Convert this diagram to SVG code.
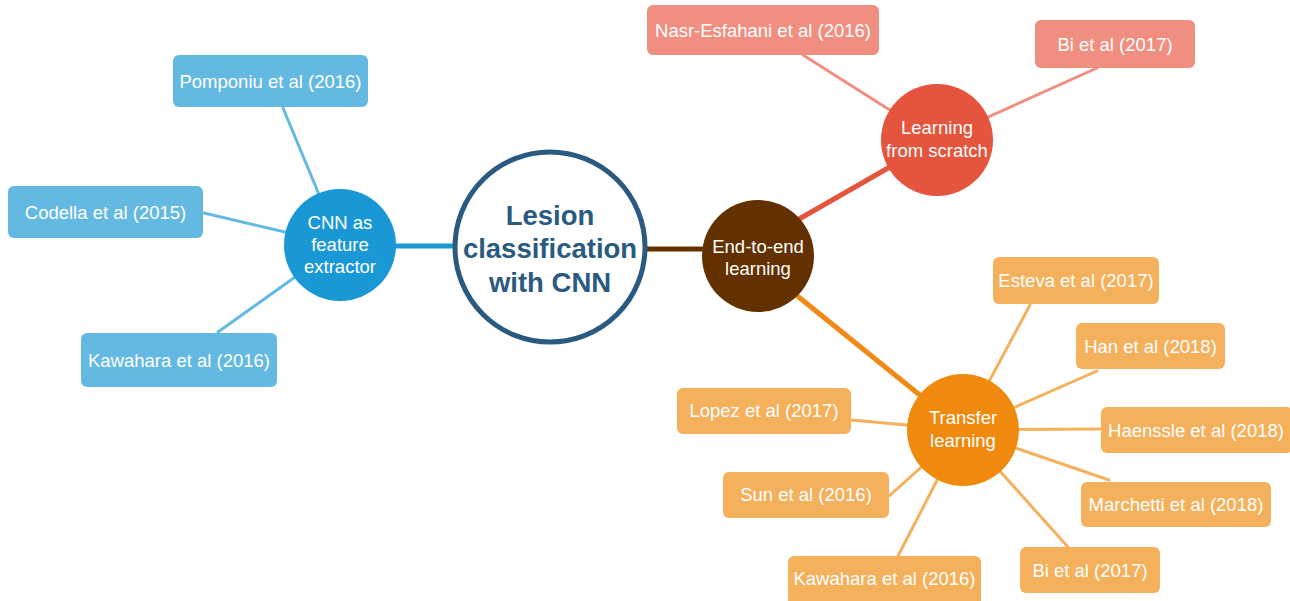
<svg xmlns="http://www.w3.org/2000/svg" width="1290" height="601" viewBox="0 0 1290 601">
<style>
text{font-family:"Liberation Sans",Arial,sans-serif;text-anchor:middle;fill:#fff}
.bt{font-size:18.5px}
.ct{font-size:18.5px}
.mt{font-size:27.5px;font-weight:bold;fill:#2a5a80}
.bb{fill:#64b9e2}
.rb{fill:#f08e80}
.ob{fill:#f5b05c}
.lb{stroke:#64b9e2;stroke-width:3;fill:none}
.lr{stroke:#f08e80;stroke-width:3;fill:none}
.lo{stroke:#f5b05c;stroke-width:3;fill:none}
</style>
<rect width="1290" height="601" fill="#fff"/>
<g id="connectors" stroke-linecap="round">
<line class="lb" x1="283" y1="108" x2="340" y2="245"/>
<line class="lb" x1="204" y1="213" x2="340" y2="245"/>
<line class="lb" x1="218" y1="332" x2="340" y2="245"/>
<line x1="340" y1="246" x2="455" y2="246" stroke="#1a97d5" stroke-width="5"/>
<line x1="646" y1="249" x2="710" y2="249" stroke="#633100" stroke-width="5"/>
<line x1="780" y1="230" x2="937" y2="140" stroke="#e5543d" stroke-width="5"/>
<line x1="790" y1="290" x2="963" y2="430" stroke="#ef8a17" stroke-width="5"/>
<line class="lr" x1="803" y1="55" x2="937" y2="140"/>
<line class="lr" x1="1097" y1="68" x2="937" y2="140"/>
<line class="lo" x1="1030" y1="305" x2="963" y2="430"/>
<line class="lo" x1="1097" y1="371" x2="963" y2="430"/>
<line class="lo" x1="1101" y1="429" x2="963" y2="430"/>
<line class="lo" x1="1109" y1="480" x2="963" y2="430"/>
<line class="lo" x1="1068" y1="547" x2="963" y2="430"/>
<line class="lo" x1="898" y1="556" x2="963" y2="430"/>
<line class="lo" x1="889" y1="496" x2="963" y2="430"/>
<line class="lo" x1="851" y1="420" x2="963" y2="430"/>
</g>
<g id="main">
<circle cx="550" cy="247" r="95" fill="#fff" stroke="#2a5a80" stroke-width="5"/>
<text class="mt" x="550" y="225">Lesion</text>
<text class="mt" x="550" y="258">classification</text>
<text class="mt" x="550" y="292">with CNN</text>
</g>
<g id="cnn-feature">
<circle cx="340" cy="245" r="56" fill="#1a97d5"/>
<text class="ct" x="340" y="229">CNN as</text>
<text class="ct" x="340" y="251">feature</text>
<text class="ct" x="340" y="273">extractor</text>
</g>
<g id="end-to-end">
<circle cx="758" cy="256" r="56" fill="#633100"/>
<text class="ct" x="758" y="253">End-to-end</text>
<text class="ct" x="758" y="275">learning</text>
</g>
<g id="scratch">
<circle cx="937" cy="140" r="56" fill="#e5543d"/>
<text class="ct" x="937" y="134">Learning</text>
<text class="ct" x="937" y="157">from scratch</text>
</g>
<g id="transfer">
<circle cx="963" cy="430" r="56" fill="#ef8a0e"/>
<text class="ct" x="963" y="424">Transfer</text>
<text class="ct" x="963" y="447">learning</text>
</g>
<g id="pomponiu"><rect class="bb" x="173" y="55" width="195" height="52" rx="6"/><text class="bt" x="270.5" y="88">Pomponiu et al (2016)</text></g>
<g id="codella"><rect class="bb" x="8" y="186" width="195" height="52" rx="6"/><text class="bt" x="105.5" y="219">Codella et al (2015)</text></g>
<g id="kawahara-1"><rect class="bb" x="81" y="333" width="196" height="54" rx="6"/><text class="bt" x="179" y="367">Kawahara et al (2016)</text></g>
<g id="nasr"><rect class="rb" x="647" y="5" width="232" height="50" rx="6"/><text class="bt" x="763" y="37">Nasr-Esfahani et al (2016)</text></g>
<g id="bi-1"><rect class="rb" x="1035" y="20" width="160" height="48" rx="6"/><text class="bt" x="1115" y="51">Bi et al (2017)</text></g>
<g id="esteva"><rect class="ob" x="993" y="257" width="166" height="47" rx="6"/><text class="bt" x="1076" y="287">Esteva et al (2017)</text></g>
<g id="han"><rect class="ob" x="1076" y="323" width="149" height="46" rx="6"/><text class="bt" x="1150.5" y="353">Han et al (2018)</text></g>
<g id="haenssle"><rect class="ob" x="1101" y="407" width="192" height="46" rx="6"/><text class="bt" x="1196" y="437">Haenssle et al (2018)</text></g>
<g id="marchetti"><rect class="ob" x="1081" y="482" width="190" height="45" rx="6"/><text class="bt" x="1176" y="511">Marchetti et al (2018)</text></g>
<g id="bi-2"><rect class="ob" x="1020" y="547" width="140" height="46" rx="6"/><text class="bt" x="1090" y="577">Bi et al (2017)</text></g>
<g id="kawahara-2"><rect class="ob" x="788" y="556" width="193" height="50" rx="6"/><text class="bt" x="884.5" y="585">Kawahara et al (2016)</text></g>
<g id="sun"><rect class="ob" x="723" y="472" width="166" height="46" rx="6"/><text class="bt" x="806" y="501">Sun et al (2016)</text></g>
<g id="lopez"><rect class="ob" x="677" y="388" width="174" height="46" rx="6"/><text class="bt" x="764" y="417">Lopez et al (2017)</text></g>
</svg>
